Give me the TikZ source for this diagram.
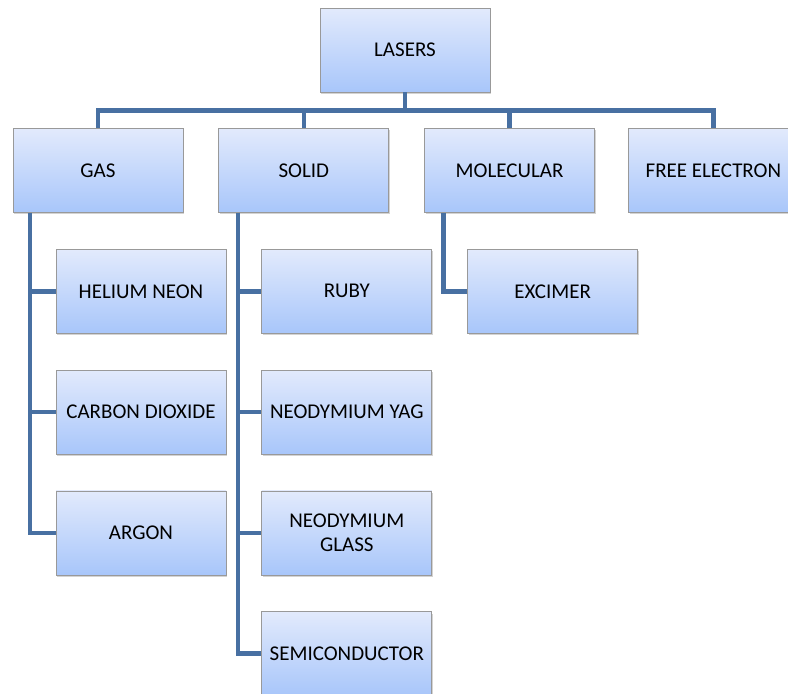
\documentclass[tikz,border=0pt]{standalone}
\usepackage{fontspec}
\setmainfont{Carlito}
\usetikzlibrary{positioning,shadows}
\definecolor{linkblue}{RGB}{72,112,162}
\definecolor{boxtop}{RGB}{226,234,252}
\definecolor{boxbot}{RGB}{168,198,250}

\begin{document}
\begin{tikzpicture}[x=1pt,y=-1pt,node distance=36pt,
  box/.style={rectangle,draw=gray!80,line width=0.8pt,top color=boxtop,bottom color=boxbot,
    minimum width=170pt,minimum height=84pt,align=center,
    font=\fontsize{21}{24}\selectfont,
    drop shadow={shadow xshift=1.2pt,shadow yshift=-1.8pt,opacity=0.35}},
  link/.style={draw=linkblue,line width=4.5pt}]
  \useasboundingbox (0,0) rectangle (788,694);
  \node[box] (lasers) at (405,50)                     {LASERS};
  \node[box] (gas)    at (98,170.5)                   {GAS};
  \node[box] (solid)  [right=35pt of gas]             {SOLID};
  \node[box] (mol)    [right=35pt of solid]           {MOLECULAR};
  \node[box] (free)   [right=33pt of mol]             {FREE ELECTRON};
  % gas lasers
  \node[box] (hene)   [below=of gas,xshift=43pt]      {HELIUM NEON};
  \node[box] (co2)    [below=of hene]                 {CARBON DIOXIDE};
  \node[box] (argon)  [below=of co2]                  {ARGON};
  % solid lasers
  \node[box] (ruby)   [below=of solid,xshift=43pt]    {RUBY};
  \node[box] (ndyag)  [below=of ruby]                 {NEODYMIUM YAG};
  \node[box] (ndglass)[below=of ndyag]                {NEODYMIUM\\GLASS};
  \node[box] (semi)   [below=of ndglass]              {SEMICONDUCTOR};
  % molecular lasers
  \node[box] (excimer)[below=of mol,xshift=43pt]      {EXCIMER};

  \draw[link] (lasers.south) -- ++(0,18) -| (gas.north);
  \draw[link] (lasers.south) -- ++(0,18) -| (free.north);
  \draw[link] (solid.north) -- ++(0,-18);
  \draw[link] (mol.north) -- ++(0,-18);
  \foreach \kid in {hene,co2,argon}
    \draw[link] ([xshift=-68pt]gas.south) |- (\kid.west);
  \foreach \kid in {ruby,ndyag,ndglass,semi}
    \draw[link] ([xshift=-66pt]solid.south) |- (\kid.west);
  \draw[link] ([xshift=-66pt]mol.south) |- (excimer.west);
\end{tikzpicture}
\end{document}
